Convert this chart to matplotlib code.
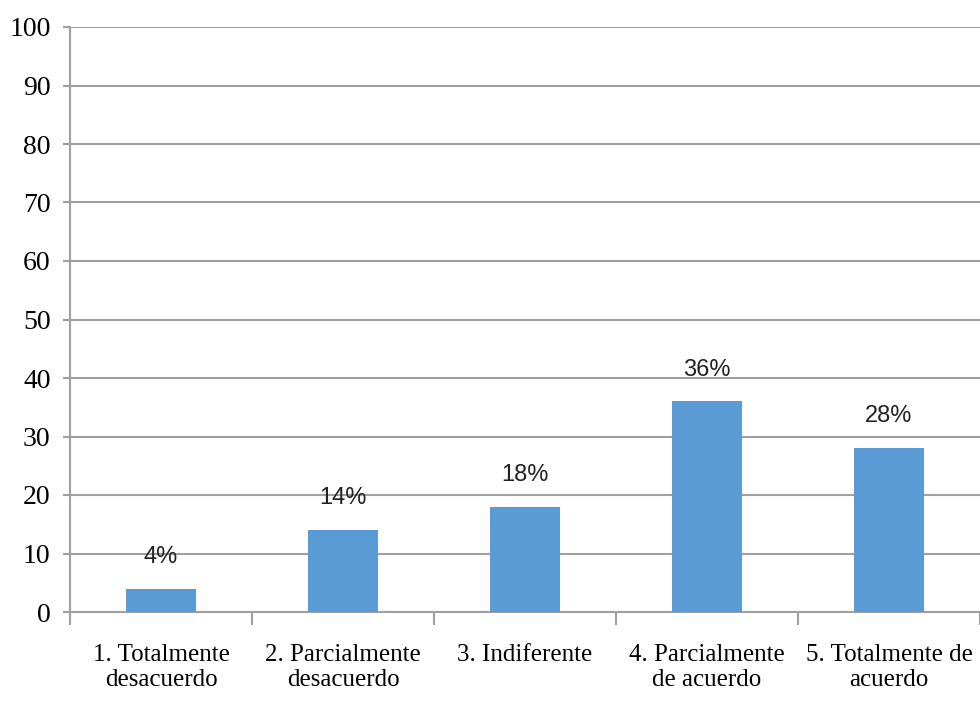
import matplotlib
matplotlib.use('Agg')
import matplotlib.pyplot as plt

# Survey responses (percent of respondents)
categories = ['1. Totalmente\ndesacuerdo', '2. Parcialmente\ndesacuerdo', '3. Indiferente',
              '4. Parcialmente\nde acuerdo', '5. Totalmente de\nacuerdo']
percentages = [4, 14, 18, 36, 28]
y_ticks = list(range(0, 101, 10))

BAR_COLOR = '#5b9bd5'
GRID_COLOR = '#a0a0a0'
SERIF = ['Liberation Serif', 'DejaVu Serif']
NARROW = ['Liberation Sans Narrow', 'Liberation Sans', 'DejaVu Sans']

fig = plt.figure(figsize=(9.8, 7.02), dpi=100)
# plot area runs past the right edge, so the last label is cut off
ax = fig.add_axes([70 / 980, 1 - 612 / 702, 910 / 980, 585 / 702])

x = list(range(len(categories)))
ax.bar(x, percentages, width=0.39, color=BAR_COLOR, zorder=3)

for xi, v in zip(x, percentages):
    ax.annotate(f'{v}%', (xi, v), xytext=(0, 15), textcoords='offset points',
                ha='center', va='bottom', fontsize=17, family=NARROW, color='#222222')

ax.set_ylim(0, 100)
ax.set_yticks(y_ticks)
ax.set_yticklabels([str(t) for t in y_ticks], family=SERIF, fontsize=20)
ax.yaxis.grid(True, color=GRID_COLOR, linewidth=1.5, zorder=0)
ax.tick_params(axis='y', length=5, width=1.5, color=GRID_COLOR, pad=9)

# category labels centred on bars, tick marks on the boundaries
ax.set_xlim(-0.5, -0.5 + 910 / 184)
ax.set_xticks([i + 0.5 for i in range(-1, len(categories))])
ax.set_xticklabels([])
ax.tick_params(axis='x', length=9, width=1.5, color=GRID_COLOR)
for xi, lab in zip(x, categories):
    ax.annotate(lab, (xi, 0), xytext=(0, -23), textcoords='offset points',
                ha='center', va='top', fontsize=18, family=SERIF,
                linespacing=1.2, annotation_clip=False)

for side in ['top', 'right']:
    ax.spines[side].set_visible(False)
ax.spines['left'].set_color(GRID_COLOR)
ax.spines['left'].set_linewidth(1.5)
ax.spines['bottom'].set_color(GRID_COLOR)
ax.spines['bottom'].set_linewidth(1.5)

fig.savefig('out.png', dpi=100)
